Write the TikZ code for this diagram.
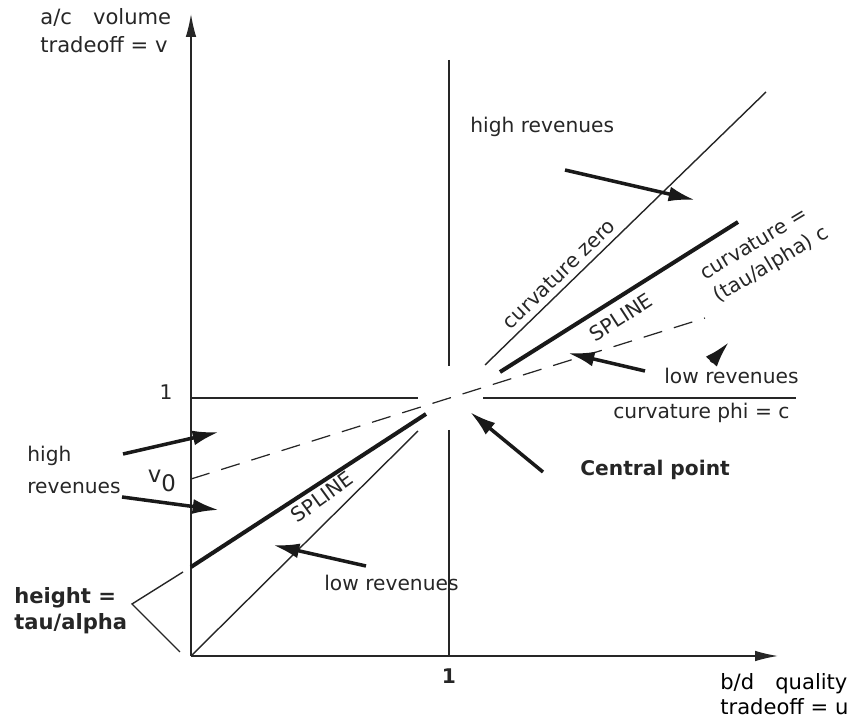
\documentclass[tikz,border=0pt]{standalone}
\usepackage{fontspec}
\setmainfont{DejaVu Sans}
\usetikzlibrary{arrows.meta}

\begin{document}
\begin{tikzpicture}[x=0.02cm,y=-0.02cm,
    lbl/.style={font=\fontsize{11.5}{18}\selectfont, text=black!85, inner sep=0pt},
    boldlbl/.style={lbl, font=\fontsize{11.5}{16}\selectfont\bfseries},
    axis/.style={line width=0.8pt, draw=black!85, -{Latex[length=13pt,width=6pt]}},
    gridline/.style={line width=0.8pt, draw=black!85},
    spline/.style={line width=2.3pt, draw=black!90},
    dashline/.style={line width=0.7pt, draw=black!85, dash pattern=on 11pt off 7pt},
    pointer/.style={line width=2pt, draw=black!90, -{Latex[length=15pt,width=8.5pt]}}]
    \useasboundingbox (0,0) rectangle (856,722);

    % Axes
    \coordinate (O) at (191,656);
    \coordinate (ytip) at (191,14);
    \coordinate (xtip) at (778,656);
    \draw[axis] (O) -- (ytip);
    \draw[axis] (O) -- (xtip);
    \node[lbl, anchor=north west, align=left, font=\fontsize{12}{16}\selectfont] (ylab) at (40,8) {a/c\quad volume\\tradeoff = v};
    \node[lbl, anchor=north west, align=left, text=black, font=\fontsize{12}{14.5}\selectfont] (xlab) at (720,673) {b/d\quad quality\\tradeoff = u};

    % Unit lines, broken at the central point
    \coordinate (C) at (450,398);
    \draw[gridline] (449,60) -- (449,366);
    \draw[gridline] (449,430) -- (O -| 449,0);
    \draw[gridline] (O |- C) -- (418,398);
    \draw[gridline] (483,398) -- (796,398);
    \node[lbl] (one-v) at (166,392) {1};
    \node[boldlbl] (one-u) at (449,676) {1};

    % Curvature zero line
    \draw[gridline] (O) -- (418,431);
    \draw[gridline] (485,365) -- (766,92);
    \node[lbl, rotate=44] (czero) at (559,274) {curvature zero};

    % Spline pieces
    \draw[spline] (191,567) -- (426,414);
    \draw[spline] (500,372) -- (738,222);
    \node[lbl, rotate=33] (spl-up) at (621,317) {SPLINE};
    \node[lbl, rotate=36] (spl-lo) at (322,497) {SPLINE};

    % Dashed curvature line
    \coordinate (v0) at (191,479);
    \draw[dashline] (v0) -- (705,318);
    \node[lbl, rotate=31, align=left, font=\fontsize{11.5}{15}\selectfont] (ctau) at (765,254) {curvature =\\(tau/alpha) c};
    \node[lbl, font=\fontsize{13}{15}\selectfont] (v0lab) at (162,481) {v\raisebox{-0.7ex}{0}};
    \node[lbl, anchor=west] (cphi) at (613,413) {curvature phi = c};

    % Height bracket
    \draw[gridline] (183,572) -- (132,604) -- (180,652);
    \node[boldlbl, anchor=west, align=left, font=\fontsize{12}{15}\selectfont\bfseries] (height) at (14,611) {height =\\tau/alpha};

    % Revenue labels and pointers
    \node[lbl, anchor=base west] (hr-up) at (470,133) {high revenues};
    \node[lbl, anchor=west] (lr-right) at (664,376) {low revenues};
    \node[lbl, anchor=west, align=left] (hr-left) at (27,470) {high\\revenues};
    \node[lbl, anchor=west] (lr-low) at (324,583) {low revenues};
    \node[boldlbl, anchor=west, font=\fontsize{11.5}{13}\selectfont\bfseries] (central) at (580,470) {Central point};

    \coordinate (a1s) at (565,170); \coordinate (a1e) at (695,200);
    \coordinate (a2s) at (645,371); \coordinate (a2e) at (568,353);
    \coordinate (a3s) at (711,362); \coordinate (a3e) at (729,342);
    \coordinate (a4s) at (543,472); \coordinate (a4e) at (470,412);
    \coordinate (a5s) at (123,454); \coordinate (a5e) at (219,432);
    \coordinate (a6s) at (122,497); \coordinate (a6e) at (219,510);
    \coordinate (a7s) at (366,566); \coordinate (a7e) at (273,545);
    \foreach \a in {1,...,7}
        \draw[pointer] (a\a s) -- (a\a e);
\end{tikzpicture}
\end{document}
